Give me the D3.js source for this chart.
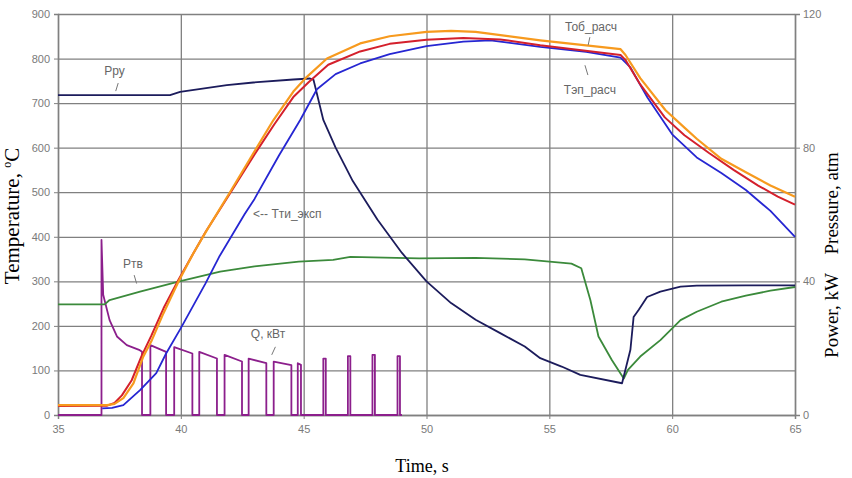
<!DOCTYPE html>
<html>
<head>
<meta charset="utf-8">
<script src="https://cdn.jsdelivr.net/npm/d3@7"></script>
<style>
  body { margin: 0; background: #fff; }
  svg { display: block; }
  .tick text { font-family: "Liberation Sans", Arial, sans-serif; font-size: 11px; fill: #7a7a7a; }
  .axis path, .axis line { stroke: #808080; }
  .grid line { stroke: #808080; stroke-width: 1.3; }
  .grid path { display: none; }
  .note { font-family: "Liberation Sans", Arial, sans-serif; font-size: 12px; fill: #666; }
  .title { font-family: "Liberation Serif", "Times New Roman", serif; fill: #000; }
</style>
</head>
<body>
<script>
// time axis, s
const xTicks = [35, 40, 45, 50, 55, 60, 65]
const tempTicks = [0, 100, 200, 300, 400, 500, 600, 700, 800, 900]
const rightTicks = [0, 40, 80, 120]

// temperatures, °C  [time, value]
const tobRasch = [[35,22],[36,22],[37,22],[37.3,25],[37.66,38],[38.07,71],[38.47,131],[38.82,168],[39.29,228],[39.9,299],[40.5,362],[41.06,415],[42,500],[43,592],[43.77,662],[44.58,726],[45.13,759],[45.95,800],[47.3,834],[48.5,850],[50,860],[51,862],[52,860],[54.63,841],[57.9,821],[58.1,808],[58.7,756],[59.73,684],[60.5,645],[61,620],[62,575],[63,545],[64,515],[65,490]]
const tepRasch = [[35,20],[37,21],[37.3,27],[37.6,44],[38,78],[38.4,132],[38.8,178],[39.3,240],[39.9,303],[40.5,362],[41,410],[42,497],[43,585],[43.8,652],[44.6,715],[45.2,747],[46,786],[47.3,816],[48.5,833],[50,842],[51.5,846],[53,843],[54.63,830],[57.9,808],[58.1,797],[58.7,742],[59.7,668],[60.5,628],[61.5,588],[62.5,550],[63.5,515],[64.3,490],[65,472]]
const ttiEksp = [[36.8,15],[37.2,16],[37.66,22],[38.34,56],[39,94],[39.4,138],[40,195],[41,295],[41.56,355],[42.6,451],[43,485],[44,583],[44.86,662],[45.54,731],[46.3,765],[47.3,789],[48.5,810],[50,828],[51.5,838],[52.6,841],[54.63,826],[56.5,815],[57.9,802],[58.3,780],[59,712],[60,630],[61,578],[62,543],[63,505],[64,458],[65,400]]

// pressures, atm
const pRu = [[35,95.7],[39.56,95.7],[39.97,96.7],[41.87,98.7],[42.95,99.5],[44.58,100.4],[45.26,100.7],[45.4,100.3],[45.8,88.3],[46.3,80],[47,70],[48,58.5],[49,48.5],[50,40],[51,33.5],[52,28.5],[53,24.5],[54,20.5],[54.63,17],[55.5,14.5],[56.26,12],[57.96,9.5],[58.3,19.5],[58.43,29.3],[58.64,31.5],[58.98,35.3],[59.52,36.9],[60.34,38.4],[61,38.7],[63,38.8],[65,38.8]]
const pTv = [[35,33.1],[36.9,33.1],[37.1,34.4],[38.34,36.9],[39.9,39.9],[41.6,42.9],[43,44.5],[44.8,45.9],[46.2,46.4],[46.9,47.3],[49.7,46.9],[52,47],[54,46.6],[55.9,45.3],[56.3,43.9],[56.67,34.4],[57,23.5],[57.55,16.4],[58.03,10.9],[58.2,13.5],[58.7,17.5],[59.52,22.4],[60.34,28.4],[61,30.9],[62,33.9],[63,35.7],[64,37.2],[65,38.3]]

// power, kW
const qKvt = [[35,0],[36.77,0],[36.77,52.4],[36.84,36],[37.1,28.4],[37.4,23.5],[37.8,20.9],[38.3,19.5],[38.42,18.9],[38.42,0],[38.76,0],[38.76,20.9],[39.4,18.9],[39.4,0],[39.73,0],[39.73,20.3],[40.47,18.4],[40.47,0],[40.75,0],[40.75,18.9],[41.47,16.9],[41.47,0],[41.78,0],[41.78,18],[42.49,16],[42.49,0],[42.76,0],[42.76,16.9],[43.48,15.5],[43.48,0],[43.78,0],[43.78,16],[44.5,14.9],[44.5,0],[44.76,0],[44.76,15.5],[44.89,15],[44.89,0],[45.8,0],[45.8,16.9],[45.9,16.9],[45.9,0],[46.8,0],[46.8,17.6],[46.9,17.6],[46.9,0],[47.8,0],[47.8,18],[47.9,18],[47.9,0],[48.82,0],[48.82,17.6],[48.92,17.6],[48.92,0],[49,0]]

const width = 852
const height = 478
const margin = {top: 14, right: 57, bottom: 63, left: 58}
const innerW = width - margin.left - margin.right
const innerH = height - margin.top - margin.bottom

const svg = d3.select("body").append("svg")
  .attr("width", width)
  .attr("height", height)

const chart = svg.append("g")
  .attr("transform", "translate(" + margin.left + "," + margin.top + ")")

const xScale = d3.scaleLinear().domain([35, 65]).range([0, innerW])
const yTemp = d3.scaleLinear().domain([0, 900]).range([innerH, 0])
const yRight = d3.scaleLinear().domain([0, 120]).range([innerH, 0])

// grid
chart.append("g")
  .attr("class", "grid")
  .call(d3.axisLeft(yTemp).tickValues(tempTicks).tickSize(-innerW).tickFormat(""))
chart.append("g")
  .attr("class", "grid")
  .attr("transform", "translate(0," + innerH + ")")
  .call(d3.axisBottom(xScale).tickValues(xTicks).tickSize(-innerH).tickFormat(""))

// axes
chart.append("g")
  .attr("class", "axis")
  .call(d3.axisLeft(yTemp).tickValues(tempTicks).tickSize(4).tickPadding(4))
chart.append("g")
  .attr("class", "axis")
  .attr("transform", "translate(" + innerW + ",0)")
  .call(d3.axisRight(yRight).tickValues(rightTicks).tickSize(5).tickPadding(3))
chart.append("g")
  .attr("class", "axis")
  .attr("transform", "translate(0," + innerH + ")")
  .call(d3.axisBottom(xScale).tickValues(xTicks).tickSize(4).tickPadding(6))

chart.selectAll(".axis path").attr("stroke-width", 1.5)

function drawLine(data, yScale, color, w){
  const line = d3.line()
    .x(function(d){ return xScale(d[0]) })
    .y(function(d){ return yScale(d[1]) })
  chart.append("path")
    .attr("d", line(data))
    .attr("fill", "none")
    .attr("stroke", color)
    .attr("stroke-width", w)
    .attr("stroke-linejoin", "round")
}

drawLine(qKvt, yRight, "#8c1f8c", 1.8)
drawLine(pTv, yRight, "#3b8a3b", 1.8)
drawLine(pRu, yRight, "#1c1c5c", 1.8)
drawLine(ttiEksp, yTemp, "#2626d2", 1.8)
drawLine(tepRasch, yTemp, "#d4202c", 2)
drawLine(tobRasch, yTemp, "#f79a1e", 2.2)

// annotations
function note(txt, x, y){
  chart.append("text").attr("class", "note")
    .attr("x", xScale(x)).attr("y", yTemp(y))
    .attr("text-anchor", "middle")
    .text(txt)
}
function leader(x1, v1, x2, v2){
  chart.append("line")
    .attr("x1", xScale(x1)).attr("y1", yTemp(v1))
    .attr("x2", xScale(x2)).attr("y2", yTemp(v2))
    .attr("stroke", "#777").attr("stroke-width", 1)
}
note("Рру", 37.3, 763)
leader(37.45, 745, 37.35, 727)
note("Ртв", 38.05, 330)
leader(38.1, 314, 38.2, 295)
note("Q, кВт", 43.55, 172)
leader(43.85, 153, 43.7, 135)
chart.append("text").attr("class", "note")
  .attr("x", xScale(42.94)).attr("y", yTemp(442))
  .text("<-- Тти_эксп")
note("Тоб_расч", 56.7, 862)
leader(56.65, 848, 56.58, 830)
note("Тэп_расч", 56.65, 720)
leader(56.45, 785, 56.57, 763)

// axis titles
const tl = svg.append("text").attr("class", "title")
  .attr("transform", "translate(19,216) rotate(-90)")
  .attr("text-anchor", "middle")
  .style("font-size", "21px")
tl.append("tspan").text("Temperature, ")
tl.append("tspan").attr("dy", -8).style("font-size", "12px").text("o")
tl.append("tspan").attr("dy", 8).text("C")

svg.append("text").attr("class", "title")
  .attr("x", 422).attr("y", 472)
  .attr("text-anchor", "middle")
  .style("font-size", "18px")
  .text("Time, s")

svg.append("text").attr("class", "title")
  .attr("transform", "translate(838,255) rotate(-90)")
  .attr("text-anchor", "middle")
  .style("font-size", "19px")
  .style("white-space", "pre")
  .text("Power, kW    Pressure, atm")
</script>
</body>
</html>
